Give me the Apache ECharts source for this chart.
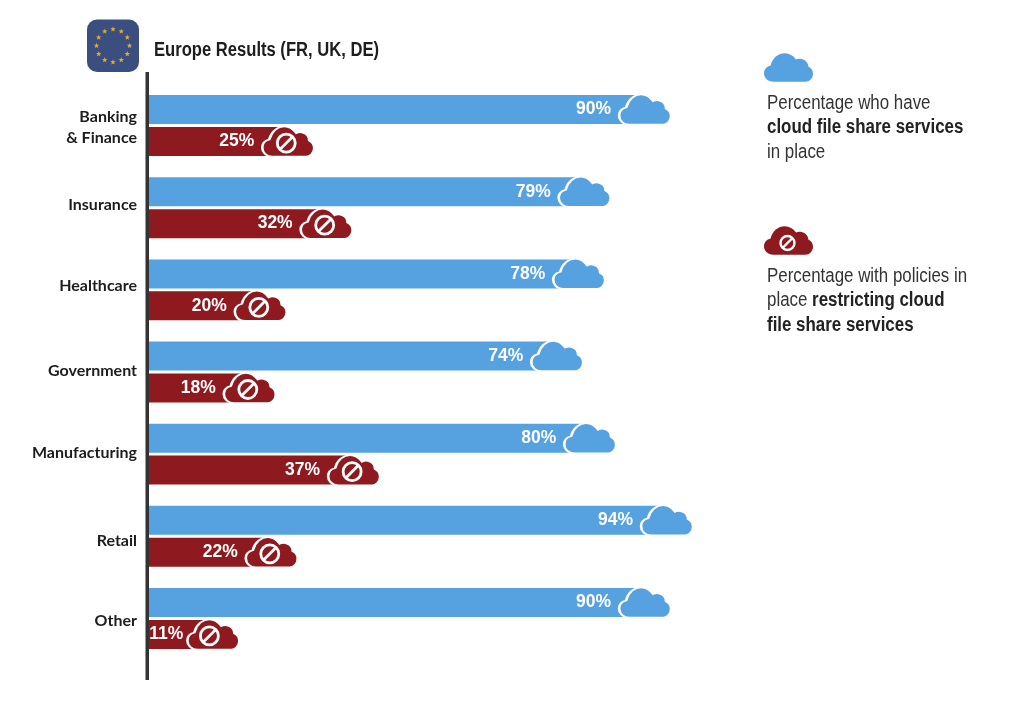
<!DOCTYPE html>
<html>
<head>
<meta charset="utf-8">
<title>Europe Results</title>
<style>html,body{margin:0;padding:0;background:#fff}#chart{width:1024px;height:715px}</style>
<script src="https://cdn.jsdelivr.net/npm/echarts@6/dist/echarts.min.js"></script>
</head>
<body>
<div id="chart"></div>
<script>
var categories=['Banking\n& Finance','Insurance','Healthcare','Government','Manufacturing','Retail','Other'];
var inPlace=[90,79,78,74,80,94,90];
var restricting=[25,32,20,18,37,22,11];
var inPlaceName='Percentage who have cloud file share services in place';
var restrictingName='Percentage with policies in place restricting cloud file share services';

var BLUE='#56a2e0';
var RED='#8e1a1f';
var INK='#1d1d1d';
var FONT='"Liberation Sans",Arial,sans-serif';
var CLOUD='path://M10 30C4 30 0 26 0 21C0 17 3 14 7 13C9 5 15 0 22 0C27 0 31 2.5 34 6.5C36 5.5 38 5.5 40 6C44 7 47 10 47 14C50 15.5 52 18 52 21.5C52 26.5 48 30 44 30Z';
var BAN='path://M10 0A10 10 0 1 1 9.99 0ZM3 17L17 3';
// small per label shifts, the labels in the picture do not sit on the band centre
var labelShift=[1,-2.6,-3.7,-0.8,-0.9,5,2];

var axisRich={};
labelShift.forEach(function(d,i){
  axisRich['s'+i]={
    color:INK,fontFamily:'Lato,'+FONT,fontWeight:'bold',fontSize:16,lineHeight:20,align:'right',
    padding:d>0?[d*2,0,0,0]:[0,0,-d*2,0]
  };
});
axisRich.p={color:INK,fontFamily:'Lato,'+FONT,fontWeight:'bold',fontSize:16,lineHeight:20,align:'right',padding:[5,0,0,0]};

function barSeries(name,vals,color){
  return {
    name:name,type:'bar',barWidth:29,barGap:'10%',itemStyle:{color:color},z:2,
    data:vals.map(function(v){
      // the smallest bar has its label pushed closer to the cloud
      return v<15?{value:v,label:{distance:26}}:v;
    }),
    label:{show:true,position:'insideRight',distance:32,color:'#fff',fontFamily:FONT,fontWeight:'bold',fontSize:17.5,formatter:'{c}%'}
  };
}
function cloudSeries(name,vals,color,dy){
  return {
    name:name,type:'scatter',symbol:CLOUD,symbolSize:[52,30],symbolOffset:[2,dy],
    data:vals.map(function(v,i){
      return v<15?{value:[v,i],symbolOffset:[4,dy]}:[v,i];
    }),
    itemStyle:{color:color,borderColor:'#fff',borderWidth:2,opacity:1},z:3,silent:true
  };
}
function legendKey(name,top){
  return {
    left:764,top:top,padding:0,itemWidth:49,itemHeight:29,selectedMode:false,
    data:[{name:name,icon:CLOUD,itemStyle:{borderWidth:0}}],formatter:function(){return '';}
  };
}

// the eu flag
var flag=[{type:'rect',shape:{x:87,y:19.5,width:52,height:52.5,r:10},style:{fill:'#3a4e80'}}];
for(var s=0;s<12;s++){
  var a=s*Math.PI/6,pts=[];
  for(var k=0;k<10;k++){
    var r=k%2?1.2:2.9,b=k*Math.PI/5-Math.PI/2;
    pts.push([113+16.5*Math.sin(a)+r*Math.cos(b),45.7-16.5*Math.cos(a)+r*Math.sin(b)]);
  }
  flag.push({type:'polygon',shape:{points:pts},style:{fill:'#e8a92c'}});
}

var rich={
  n:{fontFamily:FONT,fontSize:20,lineHeight:24.5,fill:'#333'},
  b:{fontFamily:FONT,fontSize:20,lineHeight:24.5,fontWeight:'bold',fill:'#222'}
};
// no narrow font here, so the text is squeezed
function legendText(y,str){
  return {type:'text',x:767,y:y,scaleX:0.845,z:20,style:{rich:rich,text:str,fill:'#333',fontFamily:FONT}};
}

var chart=echarts.init(document.getElementById('chart'),null,{renderer:'canvas'});
chart.setOption({
  animation:false,
  backgroundColor:'#fff',
  grid:{left:149,top:84.5,width:549,height:575},
  legend:[legendKey(inPlaceName,53),legendKey(restrictingName,226)],
  xAxis:{type:'value',min:0,max:100,show:false},
  yAxis:{
    type:'category',inverse:true,data:categories,
    axisLine:{show:false},axisTick:{show:false},
    axisLabel:{
      margin:12,rich:axisRich,
      formatter:function(v,i){
        var lines=v.split('\n');
        return lines.map(function(t,n){return '{'+(n==0?'s'+i:'p')+'|'+t+'}';}).join('\n');
      }
    }
  },
  series:[
    barSeries(inPlaceName,inPlace,BLUE),
    barSeries(restrictingName,restricting,RED),
    cloudSeries(inPlaceName,inPlace,BLUE,-16),
    cloudSeries(restrictingName,restricting,RED,16),
    {
      name:restrictingName,type:'scatter',data:restricting.map(function(v,i){return [v,i];}),
      symbol:BAN,symbolSize:18,symbolOffset:[0,17.5],
      itemStyle:{color:'rgba(0,0,0,0)',borderColor:'#fff',borderWidth:2.8,opacity:1},z:4,silent:true
    }
  ],
  graphic:flag.concat([
    {type:'rect',shape:{x:145.5,y:72,width:3.5,height:608},style:{fill:'#333'},z:10},
    {type:'text',x:154,y:40.5,scaleX:0.83,style:{text:'Europe Results (FR, UK, DE)',fill:INK,font:'bold 20px '+FONT}},
    {type:'circle',z:20,shape:{cx:787.5,cy:243,r:7},style:{fill:'none',stroke:'#fff',lineWidth:2.4}},
    {type:'line',z:20,shape:{x1:782.5,y1:248,x2:792.5,y2:238},style:{stroke:'#fff',lineWidth:2.4}},
    legendText(91,'{n|Percentage who have}\n{b|cloud file share services}\n{n|in place}'),
    legendText(264,'{n|Percentage with policies in}\n{n|place }{b|restricting cloud}\n{b|file share services}')
  ])
});
</script>
</body>
</html>
